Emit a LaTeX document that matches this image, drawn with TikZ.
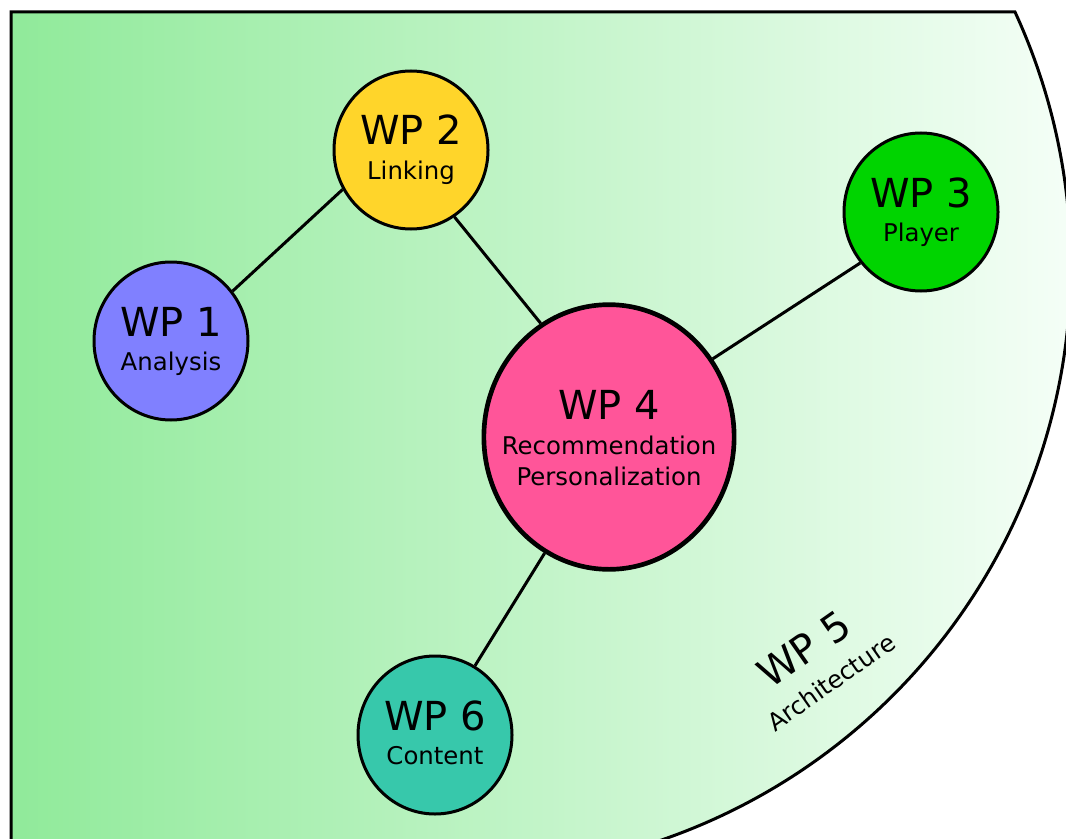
\documentclass[tikz,border=0pt]{standalone}
\usepackage{fontspec}
\setmainfont{DejaVu Sans}
\usetikzlibrary{shapes.geometric}
\definecolor{fieldleft}{RGB}{144,234,154}
\definecolor{fieldright}{RGB}{248,255,250}
\definecolor{wpblue}{RGB}{128,128,255}
\definecolor{wpyellow}{RGB}{255,213,42}
\definecolor{wpgreen}{RGB}{0,212,0}
\definecolor{wppink}{RGB}{255,85,153}
\definecolor{wpteal}{RGB}{55,200,171}
\begin{document}
\begin{tikzpicture}[x=0.75pt,y=-0.75pt,
  wp/.style={ellipse, draw=black, line width=2.25pt, inner sep=0pt,
    minimum width=115.5pt, minimum height=118.5pt},
  wpbig/.style={ellipse, draw=black, line width=3.5pt, inner sep=0pt,
    minimum width=187.7pt, minimum height=198.5pt},
  wptitle/.style={anchor=base, inner sep=0pt, font=\fontsize{30pt}{30pt}\selectfont},
  wpsub/.style={anchor=base, inner sep=0pt, font=\fontsize{18.3pt}{19pt}\selectfont},
  link/.style={draw=black, line width=2.25pt}]
\useasboundingbox (0,0) rectangle (1066,838);
\clip (0,0) rectangle (1066,838);

% architecture field: rectangle cut by a large arc on the right
\path[left color=fieldleft, right color=fieldright, draw=black, line width=2.25pt]
  (11,860) -- (11,12) -- (1015,12)
  arc[start angle=-24.75, end angle=76, radius=607] -- cycle;

% work packages
\node[wp, fill=wpblue]   (wp1) at (171,341) {};
\node[wp, fill=wpyellow] (wp2) at (411,150) {};
\node[wp, fill=wpgreen]  (wp3) at (921,212) {};
\node[wpbig, fill=wppink] (wp4) at (609,437) {};
\node[wp, fill=wpteal]   (wp6) at (435,735) {};

% connectors
\draw[link] (wp1.39.9) -- (wp2.210.8);
\draw[link] (wp2.-57.1) -- (wp4.121.2);
\draw[link] (wp3.220.3) -- (wp4.37.8);
\draw[link] (wp4.241.1) -- (wp6.60.8);

% labels
\node[wptitle] (t1) at (171,336) {WP 1};
\node[wpsub]   (s1) at (171,370) {Analysis};
\node[wptitle] (t2) at (411,145) {WP 2};
\node[wpsub]   (s2) at (411,179) {Linking};
\node[wptitle] (t3) at (921,207) {WP 3};
\node[wpsub]   (s3) at (921,241) {Player};
\node[wptitle] (t4) at (609,419) {WP 4};
\node[wpsub]   (s4a) at (609,454) {Recommendation};
\node[wpsub]   (s4b) at (609,485) {Personalization};
\node[wptitle] (t6) at (435,730) {WP 6};
\node[wpsub]   (s6) at (435,764) {Content};

\node[inner sep=0pt, rotate=35, font=\fontsize{30pt}{30pt}\selectfont] (t5) at (804,649) {WP 5};
\node[inner sep=0pt, rotate=35, font=\fontsize{18.3pt}{19pt}\selectfont] (s5) at (831,682) {Architecture};
\end{tikzpicture}
\end{document}
